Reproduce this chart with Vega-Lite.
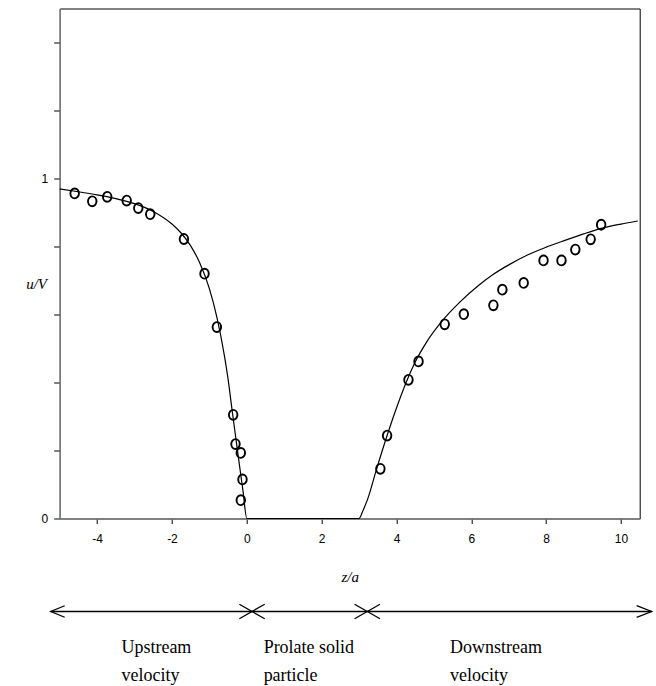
{
  "$schema": "https://vega.github.io/schema/vega-lite/v6.json",
  "padding": {"left": 24.7, "top": 7.5, "right": 0, "bottom": 0},
  "spacing": 93,
  "bounds": "flush",
  "background": "white",
  "config": {
    "view": {"stroke": "black", "strokeWidth": 1},
    "font": "Liberation Sans"
  },
  "datasets": {
    "curve": [
      {"z": -5, "u": 0.969}, {"z": -4.5, "u": 0.961}, {"z": -4, "u": 0.952},
      {"z": -3.5, "u": 0.941}, {"z": -3, "u": 0.926}, {"z": -2.5, "u": 0.903},
      {"z": -2, "u": 0.866}, {"z": -1.75, "u": 0.839}, {"z": -1.5, "u": 0.802},
      {"z": -1.25, "u": 0.75}, {"z": -1.0, "u": 0.676}, {"z": -0.8, "u": 0.592},
      {"z": -0.6, "u": 0.48}, {"z": -0.5, "u": 0.41}, {"z": -0.4, "u": 0.325},
      {"z": -0.3, "u": 0.242}, {"z": -0.2, "u": 0.16}, {"z": -0.1, "u": 0.08},
      {"z": 0, "u": 0}, {"z": 3, "u": 0}, {"z": 3.1, "u": 0.022},
      {"z": 3.22, "u": 0.054}, {"z": 3.47, "u": 0.146}, {"z": 3.75, "u": 0.244},
      {"z": 4.0, "u": 0.325}, {"z": 4.25, "u": 0.398}, {"z": 4.5, "u": 0.46},
      {"z": 4.8, "u": 0.518}, {"z": 5.2, "u": 0.578}, {"z": 5.7, "u": 0.637},
      {"z": 6.2, "u": 0.686}, {"z": 6.6, "u": 0.719}, {"z": 7.0, "u": 0.746},
      {"z": 7.5, "u": 0.775}, {"z": 8.0, "u": 0.798}, {"z": 8.5, "u": 0.818},
      {"z": 9.0, "u": 0.837}, {"z": 9.5, "u": 0.854}, {"z": 10.0, "u": 0.866},
      {"z": 10.45, "u": 0.875}
    ],
    "measured": [
      {"z": -4.6, "u": 0.956}, {"z": -4.13, "u": 0.933}, {"z": -3.73, "u": 0.946},
      {"z": -3.21, "u": 0.935}, {"z": -2.9, "u": 0.913}, {"z": -2.58, "u": 0.895},
      {"z": -1.68, "u": 0.822}, {"z": -1.13, "u": 0.72}, {"z": -0.8, "u": 0.563},
      {"z": -0.364, "u": 0.305}, {"z": -0.302, "u": 0.219}, {"z": -0.16, "u": 0.193},
      {"z": -0.115, "u": 0.115}, {"z": -0.16, "u": 0.054},
      {"z": 3.57, "u": 0.146}, {"z": 3.75, "u": 0.244}, {"z": 4.32, "u": 0.408},
      {"z": 4.59, "u": 0.462}, {"z": 5.29, "u": 0.571}, {"z": 5.8, "u": 0.601},
      {"z": 6.59, "u": 0.627}, {"z": 6.83, "u": 0.673}, {"z": 7.4, "u": 0.693},
      {"z": 7.93, "u": 0.759}, {"z": 8.41, "u": 0.759}, {"z": 8.78, "u": 0.791},
      {"z": 9.19, "u": 0.821}, {"z": 9.47, "u": 0.864}
    ],
    "arrow": [{"start": -5.24, "end": 10.82, "level": "arrow"}],
    "ends": [
      {"kind": "upstream end", "z": -5.24, "level": "arrow"},
      {"kind": "downstream end", "z": 10.82, "level": "arrow"},
      {"kind": "boundary", "z": 0.14, "level": "arrow"},
      {"kind": "boundary", "z": 3.22, "level": "arrow"}
    ],
    "regions": [
      {"label": "Upstream\nvelocity", "z": -3.35, "level": "label"},
      {"label": "Prolate solid\nparticle", "z": 0.45, "level": "label"},
      {"label": "Downstream\nvelocity", "z": 5.43, "level": "label"}
    ]
  },
  "vconcat": [
    {
      "width": 580,
      "height": 510,
      "encoding": {
        "x": {
          "field": "z", "type": "quantitative",
          "scale": {"domain": [-5, 10.5], "nice": false, "zero": false},
          "axis": {
            "title": "z/a", "grid": false,
            "values": [-4, -2, 0, 2, 4, 6, 8, 10],
            "labelExpr": "datum.value + ''",
            "domainColor": "#808080", "domainWidth": 1.4,
            "tickColor": "black", "tickWidth": 1, "tickSize": 5,
            "labelPadding": 10.5, "labelFont": "Liberation Sans", "labelFontSize": 12,
            "labelColor": "black",
            "titleFont": "Liberation Serif", "titleFontStyle": "italic",
            "titleFontWeight": "normal", "titleFontSize": 15, "titleColor": "black",
            "titleY": 63, "titleBaseline": "alphabetic"
          }
        },
        "y": {
          "field": "u", "type": "quantitative",
          "scale": {"domain": [0, 1.5], "nice": false, "zero": false},
          "axis": {
            "title": "u/V", "grid": false,
            "values": [0, 0.2, 0.4, 0.6, 0.8, 1, 1.2, 1.4],
            "labelExpr": "datum.value == 0 ? '0' : (datum.value == 1 ? '1' : '')",
            "domainColor": "#808080", "domainWidth": 1.4,
            "tickColor": "black", "tickWidth": 1, "tickSize": 6,
            "labelPadding": 6, "labelFont": "Liberation Sans", "labelFontSize": 12,
            "labelColor": "black",
            "titleFont": "Liberation Serif", "titleFontStyle": "italic",
            "titleFontWeight": "normal", "titleFontSize": 15, "titleColor": "black",
            "titleAngle": 0, "titleX": -34, "titleY": 275,
            "titleAlign": "left", "titleBaseline": "middle"
          }
        }
      },
      "layer": [
        {
          "data": {"name": "curve"},
          "mark": {"type": "line", "color": "black", "strokeWidth": 1.2, "interpolate": "monotone"}
        },
        {
          "data": {"name": "measured"},
          "mark": {
            "type": "point",
            "shape": "M 0.86 0 A 0.86 1 0 1 1 -0.86 0 A 0.86 1 0 1 1 0.86 0 Z",
            "size": 98, "filled": false, "color": "black",
            "strokeWidth": 1.9, "opacity": 1
          }
        }
      ]
    },
    {
      "width": 580,
      "height": 42,
      "view": {"stroke": null},
      "layer": [
        {
          "data": {"name": "arrow"},
          "mark": {"type": "rule", "color": "black", "strokeWidth": 1.3},
          "encoding": {
            "x": {"field": "start", "type": "quantitative",
                  "scale": {"domain": [-5, 10.5], "nice": false, "zero": false}, "axis": null},
            "x2": {"field": "end"},
            "y": {"field": "level", "type": "nominal",
                  "scale": {"type": "point", "domain": ["arrow", "label"], "padding": 0}, "axis": null}
          }
        },
        {
          "data": {"name": "ends"},
          "transform": [{"filter": "datum.kind == 'upstream end'"}],
          "mark": {"type": "point", "shape": "M 1 -0.41 L 0 0 L 1 0.41",
                   "size": 784, "filled": false, "color": "black", "strokeWidth": 1.3, "opacity": 1},
          "encoding": {
            "x": {"field": "z", "type": "quantitative"},
            "y": {"field": "level", "type": "nominal"}
          }
        },
        {
          "data": {"name": "ends"},
          "transform": [{"filter": "datum.kind == 'downstream end'"}],
          "mark": {"type": "point", "shape": "M -1 -0.39 L 0 0 L -1 0.39",
                   "size": 900, "filled": false, "color": "black", "strokeWidth": 1.3, "opacity": 1},
          "encoding": {
            "x": {"field": "z", "type": "quantitative"},
            "y": {"field": "level", "type": "nominal"}
          }
        },
        {
          "data": {"name": "ends"},
          "transform": [{"filter": "datum.kind == 'boundary'"}],
          "mark": {"type": "point", "shape": "M -1 -0.575 L 1 0.575 M -1 0.575 L 1 -0.575",
                   "size": 645, "filled": false, "color": "black", "strokeWidth": 1.3, "opacity": 1},
          "encoding": {
            "x": {"field": "z", "type": "quantitative"},
            "y": {"field": "level", "type": "nominal"}
          }
        },
        {
          "data": {"name": "regions"},
          "mark": {"type": "text", "align": "left", "baseline": "alphabetic",
                   "font": "Liberation Serif", "fontSize": 18, "lineBreak": "\n",
                   "lineHeight": 28, "color": "black"},
          "encoding": {
            "x": {"field": "z", "type": "quantitative"},
            "y": {"field": "level", "type": "nominal"},
            "text": {"field": "label"}
          }
        }
      ]
    }
  ]
}
